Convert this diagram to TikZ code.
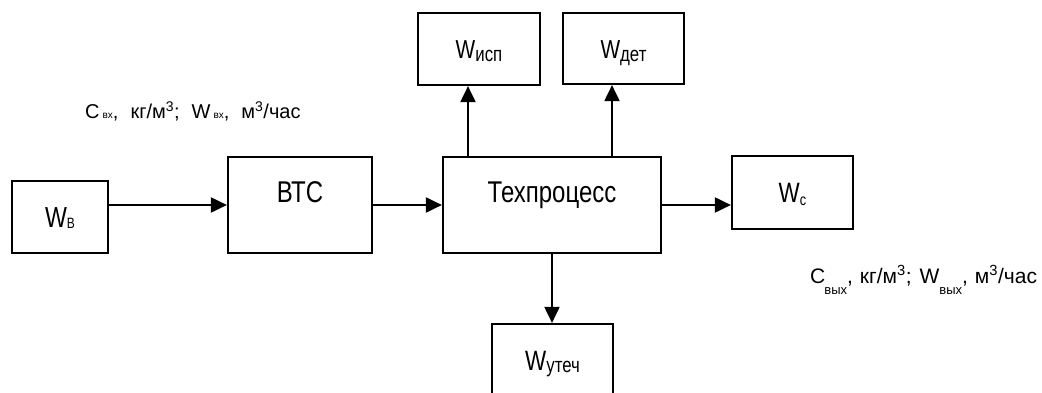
\documentclass[tikz,border=0pt]{standalone}
\usepackage{fontspec}
\setmainfont{Liberation Sans}[FakeStretch=0.8]
\newfontfamily\labfont{Liberation Sans}
\usetikzlibrary{arrows.meta}
\newcommand{\fsz}[1]{\fontsize{#1}{#1}\selectfont}
\tikzset{
  blk/.style={draw, line width=2.2pt, rectangle, inner sep=0pt, text height=20pt, text depth=0pt},
  bigblk/.style={blk, text depth=24pt},
  conn/.style={line width=2pt, -{Triangle[length=16pt,width=15pt]}},
  lab/.style={inner sep=0pt, anchor=base west, font=\labfont}
}
\begin{document}
\begin{tikzpicture}[x=1pt,y=-1pt]
\clip (0,0) rectangle (1042,393);
\fill[white] (0,0) rectangle (1042,393);
\node[blk, minimum width=96pt, minimum height=72pt] (wb) at (60,217) {\fsz{29}W\raisebox{-1pt}{\fsz{15}В}};
\node[bigblk, minimum width=144pt, minimum height=96pt] (btc) at (300,205) {\fsz{30}ВТС};
\node[bigblk, minimum width=218pt, minimum height=96pt] (tp) at (552,205) {\fsz{30}Техпроцесс};
\node[blk, minimum width=121pt, minimum height=73pt] (wc) at (792.5,192.5) {\fsz{28}W\raisebox{-3pt}{\fsz{16}с}};
\node[blk, minimum width=122pt, minimum height=72pt] (wisp) at (479,49) {\fsz{26}W\raisebox{-3pt}{\fsz{21}исп}};
\node[blk, minimum width=121pt, minimum height=71pt] (wdet) at (623.5,48.5) {\fsz{26}W\raisebox{-3pt}{\fsz{21}дет}};
\node[blk, minimum width=121pt, minimum height=72pt] (wut) at (552.5,360) {\fsz{28}W\raisebox{-2pt}{\fsz{21}утеч}};
\coordinate (xisp) at (468,0);
\coordinate (xdet) at (612,0);
\draw[conn] (wb.east |- btc.west) -- (btc.west);
\draw[conn] (btc.east) -- (tp.west);
\draw[conn] (tp.east) -- (tp.east -| wc.west);
\draw[conn] (tp.north -| xisp) -- (wisp.south -| xisp);
\draw[conn] (tp.north -| xdet) -- (wdet.south -| xdet);
\draw[conn] (tp.south) -- (wut.north -| tp.south);
\node[lab] (l1) at (85,119) {\fsz{20}C\hspace{3pt}{\fsz{10}вх},\hspace{12pt}кг/м\textsuperscript{3};\hspace{12pt}W\hspace{3pt}{\fsz{10}вх},\hspace{12pt}м\textsuperscript{3}/час};
\node[lab] (l2) at (810,283) {\fsz{21}C\hspace{-1pt}\raisebox{-11pt}{\fsz{13}вых},\hspace{7pt}кг/м\textsuperscript{3};\hspace{8pt}W\hspace{0pt}\raisebox{-11pt}{\fsz{13}вых},\hspace{7pt}м\textsuperscript{3}/час};
\end{tikzpicture}
\end{document}
